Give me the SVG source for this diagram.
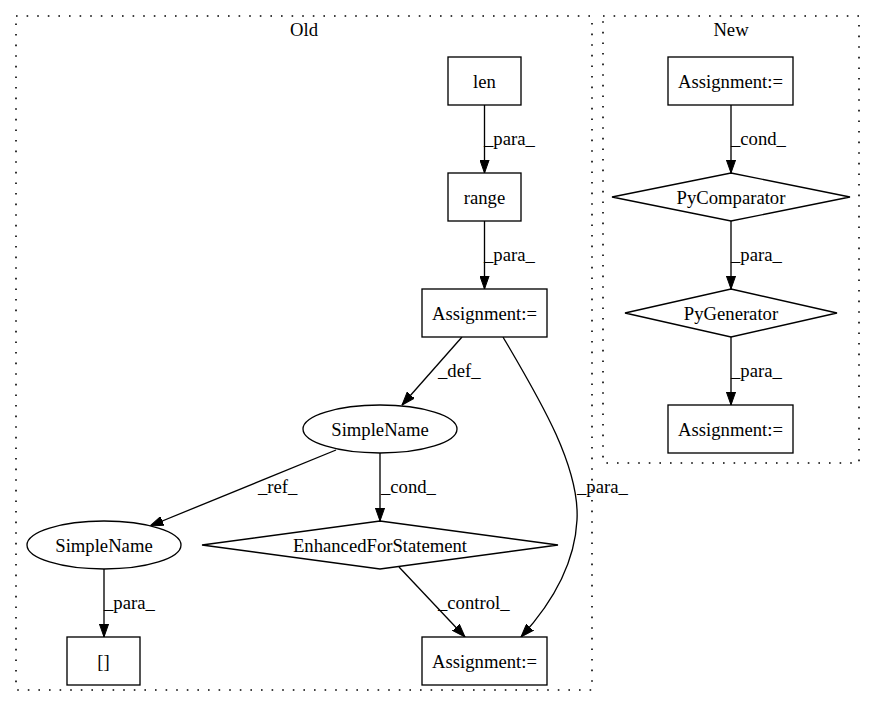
<svg xmlns="http://www.w3.org/2000/svg" width="875" height="712" viewBox="0 0 875 712" font-family="'Liberation Serif', 'Times New Roman', serif">
<style>
text{font-family:'Liberation Serif','Times New Roman',serif;font-size:18.67px;fill:#000}
.n{text-anchor:middle}
.shape{fill:#fff;stroke:#000;stroke-width:1.33}
.cl{fill:none;stroke:#000;stroke-width:1.6;stroke-dasharray:1.6,9}
.e{fill:none;stroke:#000;stroke-width:1.33}
</style>
<defs>
<marker id="ah" markerWidth="14" markerHeight="10" refX="13.3" refY="5" orient="auto" markerUnits="userSpaceOnUse">
<path d="M0,0.3 L13.3,5 L0,9.7 Z" fill="#000" stroke="#000" stroke-width="1"/>
</marker>
</defs>
<rect width="875" height="712" fill="#fff"/>
<g id="cluster_old">
<rect class="cl" x="16" y="16" width="576" height="674"/>
<text class="n" x="304" y="36">Old</text>
</g>
<g id="cluster_new">
<rect class="cl" x="603" y="16" width="256" height="447"/>
<text class="n" x="731" y="36">New</text>
</g>
<g id="connectors">
<path class="e" marker-end="url(#ah)" d="M484.5,105 L484.5,173"/>
<text x="484" y="145">_para_</text>
<path class="e" marker-end="url(#ah)" d="M484.5,221 L484.5,289"/>
<text x="484" y="261">_para_</text>
<path class="e" marker-end="url(#ah)" d="M462,337 L402,405"/>
<text x="438" y="377">_def_</text>
<path class="e" marker-end="url(#ah)" d="M503,337 C537,395 580,465 577,520 C575,560 555,600 521,637"/>
<text x="577" y="493">_para_</text>
<path class="e" marker-end="url(#ah)" d="M336,450 L150,526"/>
<text x="258" y="493">_ref_</text>
<path class="e" marker-end="url(#ah)" d="M380,453 L380,521"/>
<text x="381" y="493">_cond_</text>
<path class="e" marker-end="url(#ah)" d="M399,567 L465,637"/>
<text x="438" y="609">_control_</text>
<path class="e" marker-end="url(#ah)" d="M104,569 L104,637"/>
<text x="104" y="609">_para_</text>
<path class="e" marker-end="url(#ah)" d="M731,105 L731,173"/>
<text x="731" y="145">_cond_</text>
<path class="e" marker-end="url(#ah)" d="M731,221 L731,289"/>
<text x="731" y="261">_para_</text>
<path class="e" marker-end="url(#ah)" d="M731,337 L731,405"/>
<text x="731" y="377">_para_</text>
</g>
<g id="len">
<rect class="shape" x="448" y="57" width="73" height="48"/>
<text class="n" x="484.5" y="87.5">len</text>
</g>
<g id="range">
<rect class="shape" x="448" y="173" width="73" height="48"/>
<text class="n" x="484.5" y="203.5">range</text>
</g>
<g id="assign_old_top">
<rect class="shape" x="422" y="289" width="125" height="48"/>
<text class="n" x="484.5" y="319.5">Assignment:=</text>
</g>
<g id="simplename_top">
<ellipse class="shape" cx="380" cy="429" rx="77" ry="24"/>
<text class="n" x="380" y="435.5">SimpleName</text>
</g>
<g id="simplename_left">
<ellipse class="shape" cx="104" cy="545" rx="77" ry="24"/>
<text class="n" x="104" y="551.5">SimpleName</text>
</g>
<g id="enhanced_for">
<polygon class="shape" points="380,521 558,545 380,569 202,545"/>
<text class="n" x="380" y="551.5">EnhancedForStatement</text>
</g>
<g id="index">
<rect class="shape" x="67" y="637" width="73" height="48"/>
<text class="n" x="103.5" y="667.5">[]</text>
</g>
<g id="assign_old_bottom">
<rect class="shape" x="422" y="637" width="125" height="48"/>
<text class="n" x="484.5" y="667.5">Assignment:=</text>
</g>
<g id="assign_new_top">
<rect class="shape" x="668" y="57" width="125" height="48"/>
<text class="n" x="730.5" y="87.5">Assignment:=</text>
</g>
<g id="pycomparator">
<polygon class="shape" points="731,173 850,197 731,221 612,197"/>
<text class="n" x="731" y="203.5">PyComparator</text>
</g>
<g id="pygenerator">
<polygon class="shape" points="731,289 837,313 731,337 625,313"/>
<text class="n" x="731" y="319.5">PyGenerator</text>
</g>
<g id="assign_new_bottom">
<rect class="shape" x="668" y="405" width="125" height="48"/>
<text class="n" x="730.5" y="435.5">Assignment:=</text>
</g>
</svg>
